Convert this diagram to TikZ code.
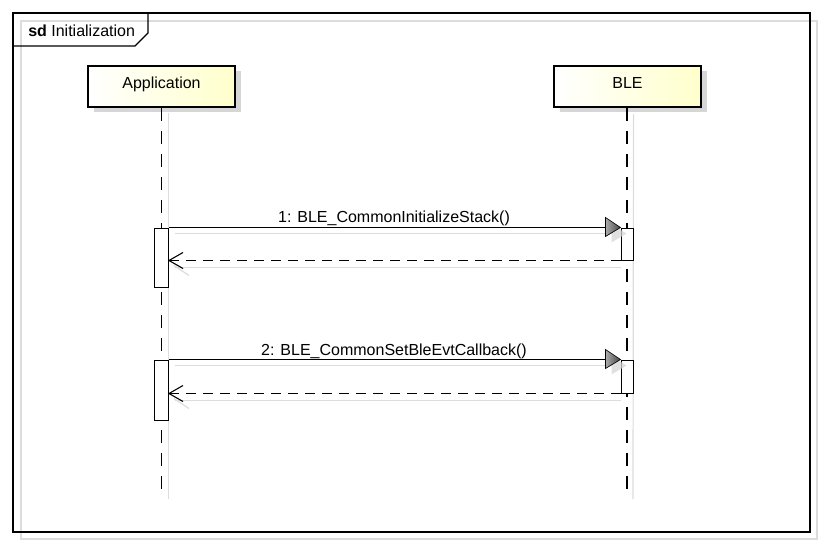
\documentclass[tikz,border=0pt]{standalone}
\usepackage{fontspec}
\setmainfont{Liberation Sans}
\usetikzlibrary{calc,shadows}
\definecolor{paleYellow}{RGB}{255,255,204}
\definecolor{shadowLine}{RGB}{220,220,220}
\definecolor{shadowFill}{RGB}{214,214,214}
\definecolor{headDark}{RGB}{70,70,70}
\definecolor{headLight}{RGB}{170,170,170}
\begin{document}
\begin{tikzpicture}[x=0.75pt,y=-0.75pt,
  every node/.style={font=\fontsize{12pt}{14pt}\selectfont},
  participant/.style={draw=black, line width=1.9pt, left color=white, right color=paleYellow,
    minimum width=110.25pt, minimum height=30.75pt, inner sep=0pt,
    text height=8.6pt, text depth=6.35pt,
    general shadow={fill=shadowFill, shadow xshift=4.5pt, shadow yshift=-3.75pt}},
  activation/.style={draw=black, fill=white, line width=0.75pt, inner sep=0pt},
  lifeline/.style={draw=black, line width=0.9pt, dash pattern=on 9.75pt off 7.5pt},
  ghost/.style={draw=shadowLine, line width=0.9pt},
  msg/.style={draw=black, line width=0.8pt},
  reply/.style={draw=black, line width=0.8pt, dash pattern=on 7.5pt off 5.25pt},
]
\useasboundingbox (0,0) rectangle (824,546);

% diagram frame with its offset shadow
\draw[ghost] (21,21) rectangle (817,539);
\draw[black, line width=0.8pt] (13,13) rectangle (810,532);
\draw[black, line width=0.8pt] (13,46) -- (135,46) -- (148,33) -- (148,13);
\node[anchor=base west, inner sep=0pt] (title) at (28,36.5) {\textbf{sd} Initialization};

% participants
\node[participant] (app) at (161.5,86.5) {Application};
\node[participant] (ble) at (627.5,86.5) {BLE};

% lifelines
\coordinate (appEnd) at (161.5,493);
\coordinate (bleEnd) at (627,493);
\draw[ghost] ($(app.south)+(7,5)$) -- ($(appEnd)+(7,6)$);
\draw[ghost] ($(ble.south)+(6,6)$) -- ($(bleEnd)+(6,6)$);
\draw[lifeline] (app.south) -- (appEnd);
\draw[lifeline] (ble.south -| bleEnd) -- (bleEnd);

% activation bars
\node[activation, minimum width=10.5pt, minimum height=44.25pt] (a1) at (161.5,257.5) {};
\node[activation, minimum width=9pt, minimum height=24pt] (b1) at (627,244) {};
\node[activation, minimum width=10.5pt, minimum height=45pt] (a2) at (161.5,390) {};
\node[activation, minimum width=9pt, minimum height=24.75pt] (b2) at (627,376.5) {};

% message 1: call and reply
\node[anchor=base] (m1) at (394,222) {1: BLE\_CommonInitializeStack()};
\draw[ghost] ($(a1.north east)+(6,6)$) -- ($(b1.north west)+(-9,6)$);
\fill[shadowFill, fill opacity=0.75] ($(b1.north west)+(-9,-3)$) -- ($(b1.north west)+(6,6)$) -- ($(b1.north west)+(-9,15)$) -- cycle;
\draw[msg] (a1.north east) -- ($(b1.north west)+(-15,0)$);
\shade[left color=headLight, right color=headDark, draw=black, line width=0.5pt]
  ($(b1.north west)+(-15,-10)$) -- (b1.north west) -- ($(b1.north west)+(-15,9)$) -- cycle;
\coordinate (r1) at (a1.east |- b1.south west);
\draw[ghost] ($(b1.south west)+(0,7)$) -- ($(r1)+(6,7)$);
\draw[ghost] ($(r1)+(5,5)$) -- ($(r1)+(20,15)$);
\draw[reply] (b1.south west) -- (r1);
\draw[msg] ($(r1)+(14,-8)$) -- (r1) -- ($(r1)+(14,8)$);

% message 2: call and reply
\node[anchor=base] (m2) at (394,355) {2: BLE\_CommonSetBleEvtCallback()};
\draw[ghost] ($(a2.north east)+(6,6)$) -- ($(b2.north west)+(-9,6)$);
\fill[shadowFill, fill opacity=0.75] ($(b2.north west)+(-9,-3)$) -- ($(b2.north west)+(6,6)$) -- ($(b2.north west)+(-9,15)$) -- cycle;
\draw[msg] (a2.north east) -- ($(b2.north west)+(-15,0)$);
\shade[left color=headLight, right color=headDark, draw=black, line width=0.5pt]
  ($(b2.north west)+(-15,-10)$) -- (b2.north west) -- ($(b2.north west)+(-15,9)$) -- cycle;
\coordinate (r2) at (a2.east |- b2.south west);
\draw[ghost] ($(b2.south west)+(0,7)$) -- ($(r2)+(6,7)$);
\draw[ghost] ($(r2)+(5,5)$) -- ($(r2)+(20,15)$);
\draw[reply] (b2.south west) -- (r2);
\draw[msg] ($(r2)+(14,-8)$) -- (r2) -- ($(r2)+(14,8)$);
\end{tikzpicture}
\end{document}
